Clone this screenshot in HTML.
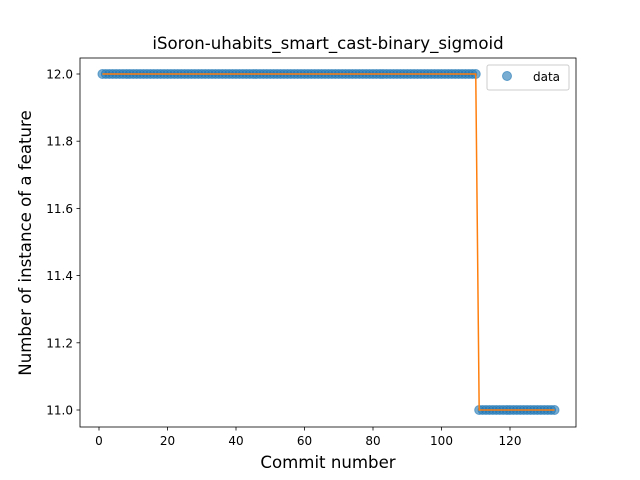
<!DOCTYPE html>
<html><head><meta charset="utf-8"><style>body{margin:0;background:#fff}svg{display:block;font-family:"DejaVu Sans","Liberation Sans",sans-serif}</style></head>
<body>
<svg id="chart" width="640" height="480">
<rect width="640" height="480" fill="#fff"/>
<text x="328" y="49" font-size="16.6" text-anchor="middle">iSoron-uhabits_smart_cast-binary_sigmoid</text>
<g id="plot"></g>
<rect x="80" y="58" width="496" height="369" fill="none" stroke="#000" stroke-width="0.8"/>
<text x="328" y="468" font-size="16.6" text-anchor="middle">Commit number</text>
<text x="0" y="0" font-size="16.6" text-anchor="middle" transform="translate(31,243) rotate(-90)">Number of instance of a feature</text>
<g>
<rect x="487" y="65" width="82" height="25" fill="#fff" stroke="#ccc" rx="2"/>
<circle cx="507" cy="76" r="4.5" fill="#1f77b4" fill-opacity="0.6" stroke="#1f77b4" stroke-opacity="0.6"/>
<text x="533" y="81" font-size="12">data</text>
</g>
</svg>
<script>
const commits = Array.from({length:133},(_, i)=>i+1);
const values = commits.map(c => c <= 110 ? 12 : 11);
const xTicks = [0,20,40,60,80,100,120];
const yTicks = [11.0,11.2,11.4,11.6,11.8,12.0];
const X = v => 99 + v*3.425;
const Y = v => 410 - (v-11)*336;
const ns="http://www.w3.org/2000/svg";
const g=document.getElementById('plot');
function mk(t,a){const e=document.createElementNS(ns,t);for(const k in a)e.setAttribute(k,a[k]);return e;}
xTicks.forEach(t=>{
 const l=mk('line',{x1:X(t),x2:X(t),y1:427,y2:430.5,stroke:'#000','stroke-width':0.8});
 
 g.appendChild(l);
 const tx=mk('text',{x:X(t),y:445,'font-size':12,'text-anchor':'middle'});tx.textContent=t;
 
 g.appendChild(tx);
});
yTicks.forEach(t=>{
 const l=mk('line',{x1:76.5,x2:80,y1:Y(t),y2:Y(t),stroke:'#000','stroke-width':0.8});
 
 g.appendChild(l);
 const tx=mk('text',{x:73,y:Y(t)+4.5,'font-size':12,'text-anchor':'end'});tx.textContent=t.toFixed(1);
 
 g.appendChild(tx);
});
commits.forEach((c,i)=>{
 const p=mk('circle',{cx:X(c),cy:Y(values[i]),r:4.5,fill:'#1f77b4','fill-opacity':0.6,stroke:'#1f77b4','stroke-opacity':0.6});
 
 g.appendChild(p);
});
const pl=mk('polyline',{points:commits.map((c,i)=>X(c)+','+Y(values[i])).join(' '),fill:'none',stroke:'#ff7f0e','stroke-width':1.5});

g.appendChild(pl);
</script>
</body></html>
